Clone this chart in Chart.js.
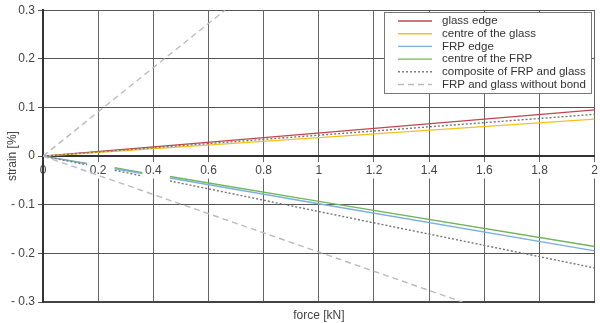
<!DOCTYPE html>
<html>
<head>
<meta charset="utf-8">
<script src="https://cdn.jsdelivr.net/npm/chart.js@4/dist/chart.umd.min.js"></script>
<style>
  html, body { margin: 0; padding: 0; background: #fff; }
  #wrap { width: 600px; height: 323px; }
</style>
</head>
<body>
<div id="wrap"><canvas id="strainChart" width="600" height="323"></canvas></div>
<script>
// force [kN] for the straight (ungapped) series
const forceFull = [0, 2];
const glassEdge = [0, 0.095];
const glassCentre = [0, 0.076];
const compositeUpper = [0, 0.086];

// FRP side: measurements with gaps (null = no reading)
const forceGapped = [0, 0.16, 0.2, 0.26, 0.36, 0.4, 0.46, 1.0, 2];
const frpCentre = [0, -0.015, null, -0.024, -0.034, null, -0.042, -0.093, -0.186];
const frpEdge = [0, -0.016, null, -0.026, -0.036, null, -0.045, -0.098, -0.195];
const compositeLower = [0, -0.018, null, -0.029, -0.041, null, -0.051, -0.114, -0.23];

// "without bond" lines run off the plot
const noBondUpperForce = [0, 0.66];
const noBondUpper = [0, 0.3];
const noBondLowerForce = [0, 1.52];
const noBondLower = [0, -0.3];

const xTicks = [0, 0.2, 0.4, 0.6, 0.8, 1, 1.2, 1.4, 1.6, 1.8, 2];
const yTicks = [-0.3, -0.2, -0.1, 0, 0.1, 0.2, 0.3];

const legendItems = [
  { label: "glass edge", color: "#c0464d", dash: [] },
  { label: "centre of the glass", color: "#f2c21b", dash: [] },
  { label: "FRP edge", color: "#7ab0e0", dash: [] },
  { label: "centre of the FRP", color: "#72b55a", dash: [] },
  { label: "composite of FRP and glass", color: "#777777", dash: [2, 2] },
  { label: "FRP and glass without bond", color: "#bbbbbb", dash: [6, 4] },
];

function toPoints(xs, ys) {
  return xs.map((x, i) => ({ x: x, y: ys[i] }));
}

function line(points, color, dash) {
  return {
    data: points,
    borderColor: color,
    borderWidth: 1.4,
    borderDash: dash,
    pointRadius: 0,
    fill: false,
    spanGaps: false,
    tension: 0,
  };
}

const datasets = [
  line(toPoints(noBondUpperForce, noBondUpper), "#bbbbbb", [6, 4]),
  line(toPoints(noBondLowerForce, noBondLower), "#bbbbbb", [6, 4]),
  line(toPoints(forceGapped, compositeLower), "#777777", [2, 2]),
  line(toPoints(forceGapped, frpEdge), "#7ab0e0", []),
  line(toPoints(forceGapped, frpCentre), "#72b55a", []),
  line(toPoints(forceFull, compositeUpper), "#777777", [2, 2]),
  line(toPoints(forceFull, glassCentre), "#f2c21b", []),
  line(toPoints(forceFull, glassEdge), "#c0464d", []),
];

// legend drawn inside the plot, top right
const boxLegend = {
  id: "boxLegend",
  afterDraw(chart) {
    const ctx = chart.ctx;
    const x0 = 384, y0 = 12, w = 207, h = 81;
    ctx.save();
    ctx.fillStyle = "#fff";
    ctx.fillRect(x0, y0, w, h);
    ctx.strokeStyle = "#777";
    ctx.lineWidth = 1;
    ctx.strokeRect(x0 + 0.5, y0 + 0.5, w, h);
    ctx.font = "11.5px 'Liberation Sans', Arial, sans-serif";
    ctx.textBaseline = "middle";
    legendItems.forEach((item, i) => {
      const y = y0 + 9 + i * 12.7;
      ctx.beginPath();
      ctx.setLineDash(item.dash);
      ctx.strokeStyle = item.color;
      ctx.lineWidth = 1.4;
      ctx.moveTo(x0 + 14, y);
      ctx.lineTo(x0 + 48, y);
      ctx.stroke();
      ctx.setLineDash([]);
      ctx.fillStyle = "#333";
      ctx.fillText(item.label, x0 + 58, y);
    });
    ctx.restore();
  },
};

const fontSpec = { family: "'Liberation Sans', Arial, sans-serif", size: 12 };

new Chart(document.getElementById("strainChart"), {
  type: "line",
  data: { datasets: datasets },
  plugins: [boxLegend],
  options: {
    responsive: false,
    animation: false,
    layout: { padding: { top: 7, right: 3, left: 0, bottom: 0 } },
    plugins: { legend: { display: false }, tooltip: { enabled: false } },
    scales: {
      x: {
        type: "linear",
        min: 0,
        max: 2,
        position: { y: 0 },
        afterBuildTicks: (axis) => {
          axis.ticks = xTicks.map((v) => ({ value: v }));
        },
        grid: { color: "#666", lineWidth: 1, tickLength: 5 },
        border: { color: "#333", width: 2 },
        ticks: {
          color: "#444",
          font: fontSpec,
          padding: 2,
          maxRotation: 0,
          showLabelBackdrop: true,
          backdropColor: "#fff",
          backdropPadding: 1,
          callback: (v) => String(v),
        },
      },
      xTitle: {
        type: "linear",
        axis: "x",
        position: "bottom",
        min: 0,
        max: 2,
        grid: { display: false, drawTicks: false },
        border: { display: true, color: "#444", width: 2 },
        ticks: { display: false },
        title: { display: true, text: "force [kN]", color: "#444", font: fontSpec, padding: { top: 6, bottom: 0 } },
        afterFit: (axis) => { axis.height = 21; },
      },
      y: {
        min: -0.3,
        max: 0.3,
        afterBuildTicks: (axis) => {
          axis.ticks = yTicks.map((v) => ({ value: v }));
        },
        grid: { color: "#555", lineWidth: 1, tickLength: 5 },
        border: { color: "#333", width: 2 },
        ticks: {
          color: "#444",
          font: fontSpec,
          padding: 3,
          callback: (v) => {
            const r = Math.round(v * 10) / 10;
            if (r === 0) return "0";
            return r < 0 ? "- " + Math.abs(r).toFixed(1) : r.toFixed(1);
          },
        },
        title: { display: true, text: "strain [%]", color: "#444", font: fontSpec, padding: { top: 5, bottom: 0 } },
        afterFit: (axis) => { axis.width = 43; },
      },
    },
  },
});
</script>
</body>
</html>
